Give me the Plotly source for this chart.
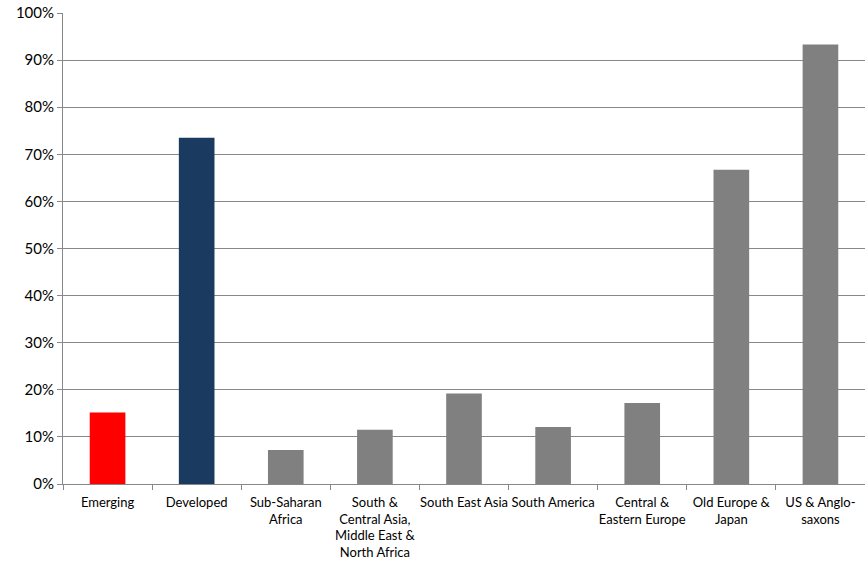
import plotly.graph_objects as go

# categories and values (share, %)
categorias = ['Emerging', 'Developed', 'Sub-Saharan<br>Africa',
              'South &<br>Central Asia,<br>Middle East &<br>North Africa',
              'South East Asia', 'South America', 'Central &<br>Eastern Europe',
              'Old Europe &<br>Japan', 'US & Anglo-<br>saxons']
valores = [0.152, 0.735, 0.072, 0.115, 0.192, 0.121, 0.172, 0.667, 0.933]
cores = ['#ff0000', '#1b3a5f'] + ['#808080'] * 7

y_ticks = [i / 10 for i in range(11)]

fig = go.Figure()
fig.add_trace(go.Bar(
    x=categorias,
    y=valores,
    marker=dict(color=cores, line=dict(width=0)),
    hovertemplate='%{x}: %{y:.1%}<extra></extra>'
))

fig.update_layout(
    width=865, height=567,
    margin=dict(l=63, r=0, t=13, b=83),
    plot_bgcolor='white', paper_bgcolor='white',
    bargap=0.6,
    showlegend=False,
    font=dict(family='Lato, Open Sans, sans-serif', color='#000000')
)

fig.update_xaxes(
    showline=True, linecolor='#888888', linewidth=1,
    ticks='outside', tickson='boundaries', ticklen=5, tickcolor='#888888',
    tickfont=dict(size=13), ticklabelstandoff=6, tickangle=0,
    showgrid=False, automargin=False
)
fig.update_yaxes(
    range=[0, 1], tickvals=y_ticks, tickformat='.0%',
    showline=True, linecolor='#888888', linewidth=1,
    ticks='outside', ticklen=5, tickcolor='#888888',
    showgrid=True, gridcolor='#888888', gridwidth=1,
    zeroline=False, tickfont=dict(size=15), automargin=False
)

# drop the default 8px page margin so the figure fills the window
fig.write_html('out.html', config={'displayModeBar': False},
               post_script="document.body.style.margin='0';")
